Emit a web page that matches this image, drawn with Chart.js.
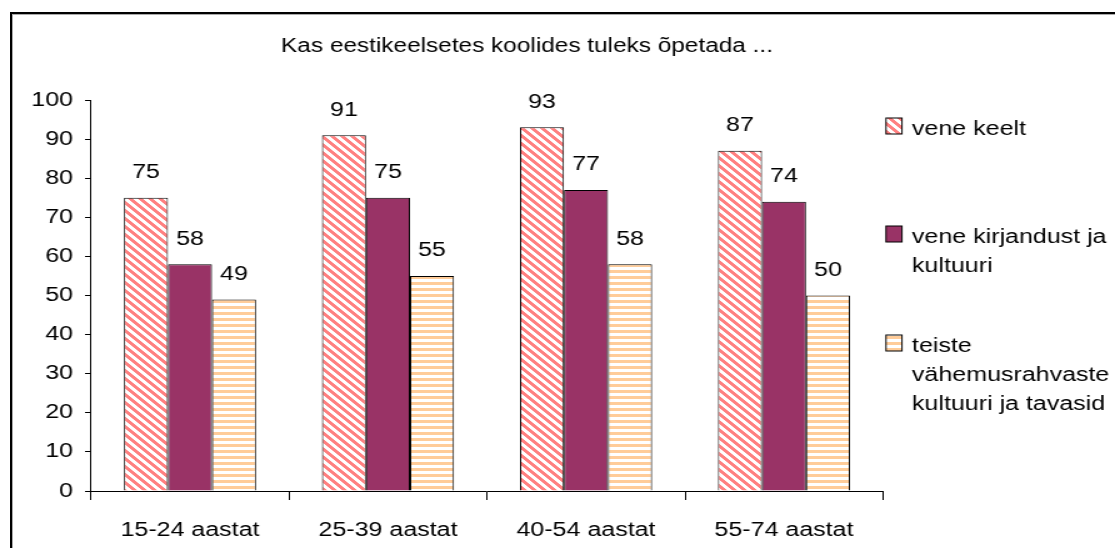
<!DOCTYPE html>
<html>
<head>
<meta charset="utf-8">
<script src="https://cdn.jsdelivr.net/npm/chart.js@4/dist/chart.umd.min.js"></script>
<style>
  html, body { margin: 0; padding: 0; background: #fff; overflow: hidden; }
  #frame {
    position: absolute; left: 10px; top: 12px; width: 1200px; height: 700px;
    border-left: 2px solid #000; border-top: 2px solid #000;
    box-shadow: inset 1px 1px 0 #aaa;
  }
  /* chart is laid out narrow and stretched sideways */
  #wrap {
    position: absolute; left: 0; top: 0; width: 892px; height: 548px;
    transform: scaleX(1.25); transform-origin: 0 0;
  }
</style>
</head>
<body>
<div id="frame"></div>
<div id="wrap"><canvas id="chart" width="892" height="548"></canvas></div>
<script>
var ageGroups = ['15-24 aastat', '25-39 aastat', '40-54 aastat', '55-74 aastat'];
var russianLanguage = [75, 91, 93, 87];
var russianLiterature = [58, 75, 77, 74];
var minorityCultures = [49, 55, 58, 50];
var seriesNames = [
  ['vene keelt'],
  ['vene kirjandust ja', 'kultuuri'],
  ['teiste', 'vähemusrahvaste', 'kultuuri ja tavasid']
];
var chartTitle = 'Kas eestikeelsetes koolides tuleks õpetada ...';

var FONT = '"Liberation Sans", Arial, sans-serif';
var canvas = document.getElementById('chart');
var ctxMain = canvas.getContext('2d');

function makePattern(size, test, color) {
  var tile = document.createElement('canvas');
  tile.width = size;
  tile.height = size;
  var g = tile.getContext('2d');
  g.fillStyle = '#ffffff';
  g.fillRect(0, 0, size, size);
  g.fillStyle = color;
  for (var y = 0; y < size; y++) {
    for (var x = 0; x < size; x++) {
      if (test(x, y)) g.fillRect(x, y, 1, 1);
    }
  }
  return ctxMain.createPattern(tile, 'repeat');
}

var diagonalRed = makePattern(8, function (x, y) { return ((x - y) % 8 + 8) % 8 < 4; }, '#ff8080');
var stripesPeach = makePattern(6, function (x, y) { return y % 6 < 3; }, '#ffcc99');
var fills = [diagonalRed, '#993366', stripesPeach];

// value labels above each bar
var barLabels = {
  id: 'barLabels',
  afterDatasetsDraw: function (chart) {
    var ctx = chart.ctx;
    ctx.save();
    ctx.font = '20px ' + FONT;
    ctx.fillStyle = '#000';
    ctx.textAlign = 'center';
    ctx.textBaseline = 'middle';
    chart.data.datasets.forEach(function (ds, i) {
      chart.getDatasetMeta(i).data.forEach(function (bar, j) {
        ctx.fillText(String(ds.data[j]), bar.x, bar.y - 25);
      });
    });
    ctx.restore();
  }
};

// title and the wrapped legend on the right
var sideText = {
  id: 'sideText',
  afterDraw: function (chart) {
    var ctx = chart.ctx;
    ctx.save();
    ctx.fillStyle = '#000';
    ctx.font = '19.5px ' + FONT;
    ctx.textAlign = 'center';
    ctx.textBaseline = 'middle';
    ctx.fillText(chartTitle, 421.6, 47);

    var baselines = [135, 243, 352];
    var boxX = chart.chartArea.right + 2.4;
    var textX = boxX + 20.8;
    ctx.font = '20px ' + FONT;
    ctx.textAlign = 'left';
    ctx.textBaseline = 'alphabetic';
    seriesNames.forEach(function (lines, i) {
      var b = baselines[i];
      ctx.fillStyle = fills[i];
      ctx.fillRect(boxX, b - 17, 12.8, 16);
      ctx.strokeStyle = '#000';
      ctx.lineWidth = 1;
      ctx.strokeRect(boxX, b - 17, 12.8, 16);
      ctx.fillStyle = '#000';
      lines.forEach(function (line, k) {
        ctx.fillText(line, textX, b + k * 29);
      });
    });
    ctx.restore();
  }
};

var chart = new Chart(canvas, {
  type: 'bar',
  data: {
    labels: ageGroups,
    datasets: [
      { label: seriesNames[0].join(' '), data: russianLanguage, backgroundColor: fills[0] },
      { label: seriesNames[1].join(' '), data: russianLiterature, backgroundColor: fills[1] },
      { label: seriesNames[2].join(' '), data: minorityCultures, backgroundColor: fills[2] }
    ]
  },
  plugins: [barLabels, sideText],
  options: {
    responsive: false,
    animation: false,
    devicePixelRatio: 1,
    layout: { padding: { left: 0, right: 185.6, top: 100, bottom: 0 } },
    datasets: {
      bar: {
        borderColor: '#000',
        borderWidth: 1,
        categoryPercentage: 0.667,
        barPercentage: 1
      }
    },
    plugins: {
      legend: { display: false },
      title: { display: false },
      tooltip: { enabled: false }
    },
    scales: {
      x: {
        afterFit: function (scale) { scale.height = 57; },
        grid: { offset: true, drawOnChartArea: false, tickLength: 9, color: '#000' },
        border: { color: '#000' },
        ticks: { color: '#000', padding: 18, font: { family: FONT, size: 20 } }
      },
      y: {
        min: 0,
        max: 100,
        afterFit: function (scale) { scale.width = 72.8; },
        grid: { drawOnChartArea: false, tickLength: 4.8, color: '#000' },
        border: { color: '#000' },
        ticks: { stepSize: 10, color: '#000', padding: 9.6, font: { family: FONT, size: 20 } }
      }
    }
  }
});
</script>
</body>
</html>
